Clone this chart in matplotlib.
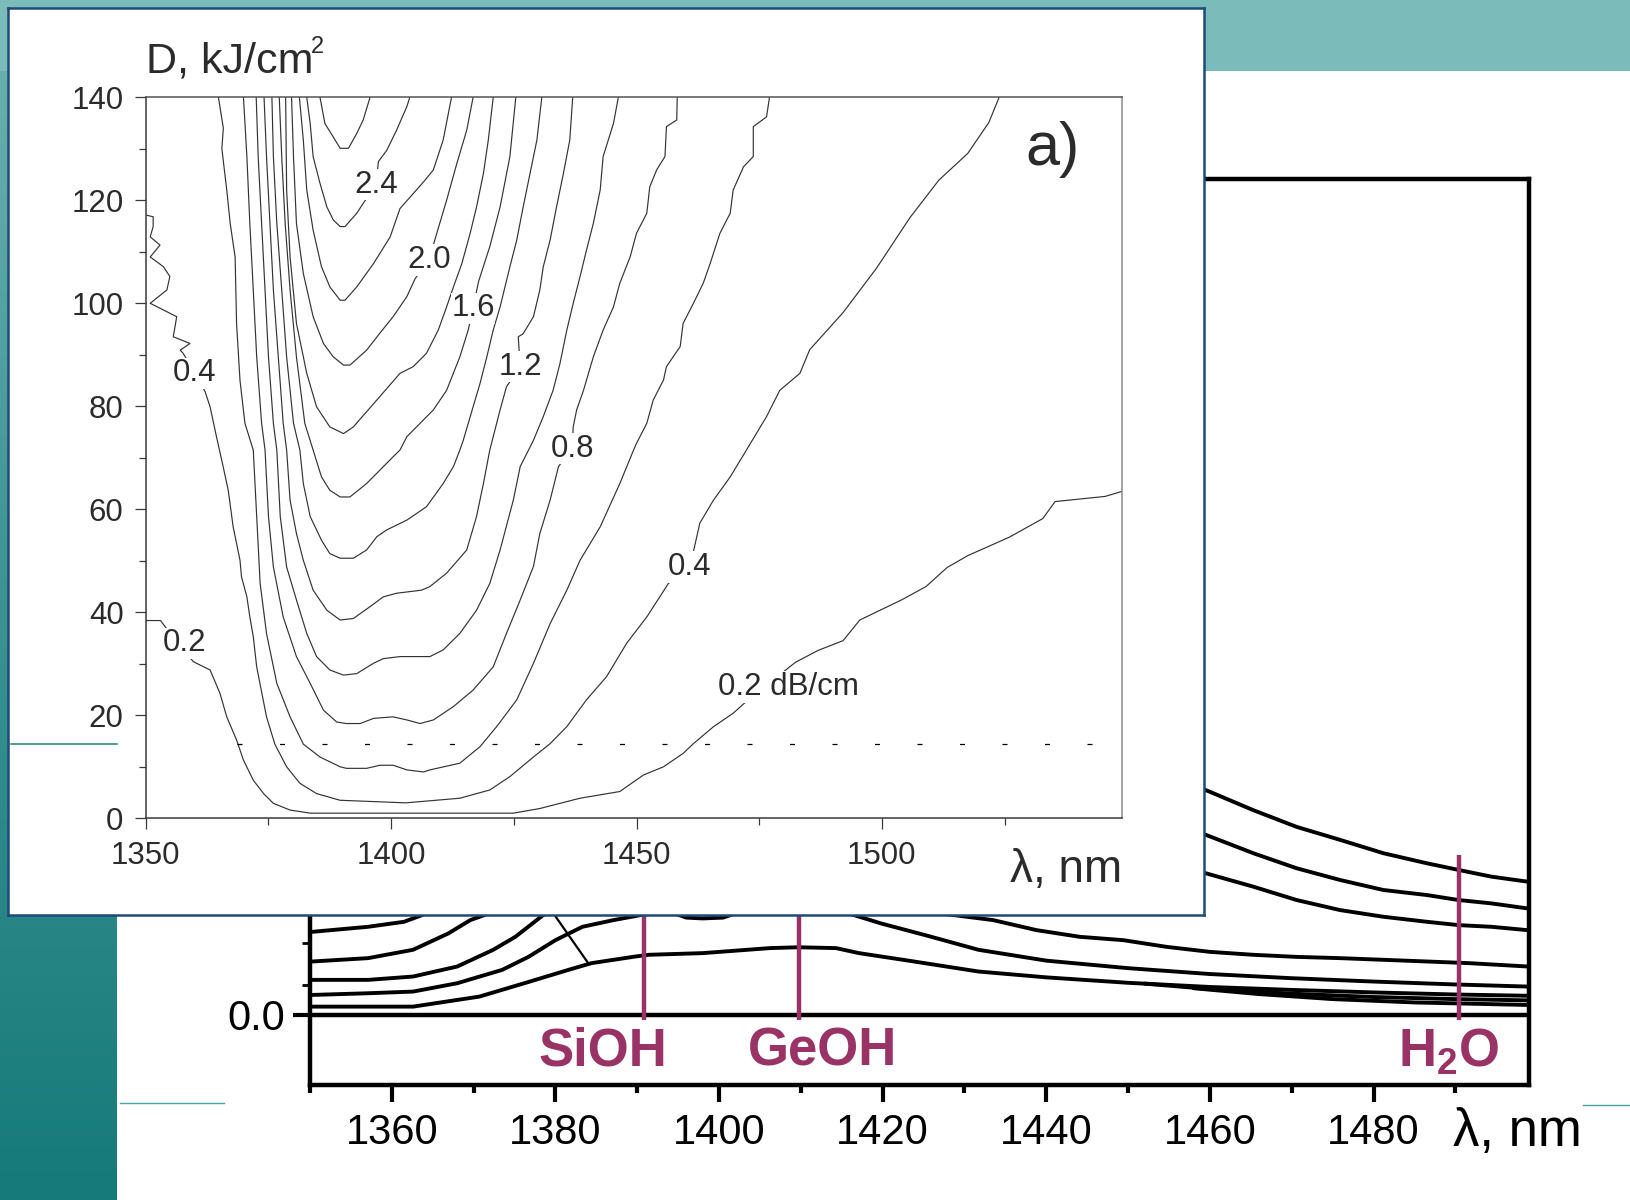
import numpy as np
import matplotlib.pyplot as plt
from matplotlib.patches import Rectangle
from matplotlib.colors import LinearSegmentedColormap
from matplotlib.ticker import FixedLocator, MultipleLocator

plt.rcParams['font.family'] = ['Liberation Sans', 'DejaVu Sans']
plt.rcParams['mathtext.fontset'] = 'custom'
plt.rcParams['mathtext.rm'] = 'Liberation Sans'
plt.rcParams['mathtext.bf'] = 'Liberation Sans:bold'

# ---------------- inset (a): iso-loss contours, lambda (nm) vs dose D (kJ/cm2)
c02_lam = [1350, 1353, 1354.5, 1356.5, 1359.7, 1363.1, 1365.1, 1366.5, 1368.5, 1369.9, 1371.9, 1374.0,
           1376.0, 1379.4, 1383.5, 1424.9, 1430.3, 1438.5, 1446.6, 1451.4, 1455.5, 1459.5, 1461.6, 1465.7,
           1469.7, 1473.8, 1478.0, 1482.4, 1487.0, 1492.1, 1495.5, 1504.0, 1509.0, 1513.3, 1517.5, 1526.0,
           1532.8, 1535.3, 1545.5, 1549.0]
c02_D = [38.4, 38.4, 36.5, 34.0, 30.4, 28.8, 24.3, 19.7, 15.2, 11.3, 7.4, 4.8,
         2.9, 1.6, 1.0, 1.0, 1.9, 3.9, 5.2, 8.4, 10.0, 12.6, 14.5, 17.8,
         20.4, 23.9, 27.0, 30.3, 32.6, 34.5, 38.5, 42.4, 45.0, 48.7, 51.0, 54.6,
         58.2, 61.5, 62.5, 63.5]
c04_lam = [1350.2, 1351.5, 1351.5, 1350.9, 1352.9, 1350.9, 1353.6, 1354.9, 1354.3, 1350.9, 1353.6, 1356.3,
           1355.6, 1359.0, 1357.0, 1357.6, 1360.0, 1362.1, 1363.1, 1364.4, 1365.6, 1366.8, 1367.8, 1369.2,
           1369.5, 1370.6, 1371.2, 1371.9, 1372.6, 1374.6, 1376.3, 1378.7, 1381.4, 1384.8, 1389.6, 1403.0,
           1414.0, 1420.1, 1424.2, 1429.0, 1432.4, 1435.8, 1439.8, 1443.9, 1448.0, 1452.1, 1456.5, 1460.9,
           1462.9, 1465.7, 1469.1, 1472.4, 1476.5, 1479.2, 1483.3, 1485.3, 1492.1, 1498.9, 1505.7, 1511.6,
           1517.5, 1521.8, 1523.9]
c04_D = [117.1, 116.8, 114.9, 112.9, 111.3, 109.0, 107.1, 105.2, 102.6, 100.0, 98.7, 97.4,
         93.5, 92.2, 90.9, 90.3, 86.5, 82.8, 79.9, 74.1, 69.0, 63.7, 56.6, 50.1,
         46.9, 43.0, 39.1, 35.3, 29.4, 19.7, 14.4, 10.0, 6.8, 4.8, 3.5, 3.0,
         3.9, 5.5, 8.1, 11.9, 14.5, 17.8, 23.0, 27.5, 34.0, 39.1, 45.6, 48.8,
         57.3, 61.8, 66.3, 71.5, 78.0, 83.1, 86.4, 91.0, 98.2, 106.8, 116.6, 123.9,
         129.1, 135.1, 140.0]
c06_lam = [1364.8, 1365.8, 1365.5, 1366.5, 1367.2, 1368.2, 1368.5, 1369.2, 1370.2, 1371.9, 1372.6, 1373.3,
           1374.6, 1376.7, 1379.4, 1382.1, 1385.5, 1389.6, 1390.9, 1395.0, 1397.7, 1400.4, 1403.2, 1406.6,
           1407.9, 1414.0, 1418.1, 1421.5, 1425.6, 1429.0, 1432.4, 1435.8, 1438.5, 1442.6, 1446.6, 1449.4,
           1450.0, 1452.1, 1453.4, 1455.5, 1456.1, 1458.9, 1459.5, 1461.6, 1463.6, 1465.0, 1467.0, 1469.1,
           1469.7, 1471.8, 1473.8, 1473.8, 1476.5, 1477.1]
c06_D = [140.0, 134.0, 130.0, 122.0, 115.5, 109.0, 96.0, 85.0, 76.7, 71.5, 58.6, 45.6,
         35.9, 26.2, 19.7, 14.4, 11.9, 10.0, 9.7, 9.7, 10.3, 10.3, 9.4, 9.0,
         9.4, 10.7, 13.9, 17.8, 23.0, 30.1, 37.8, 44.3, 50.1, 56.6, 65.0, 71.5,
         72.8, 76.7, 81.2, 85.1, 87.7, 91.6, 96.1, 100.0, 103.9, 107.7, 113.6, 117.5,
         122.0, 126.5, 128.5, 134.3, 136.2, 140.0]
c08_lam = [1369.9, 1370.6, 1371.2, 1371.9, 1372.6, 1373.6, 1374.3, 1375.0, 1376.0, 1378.0, 1380.7, 1383.5,
           1386.2, 1388.9, 1390.9, 1393.7, 1396.4, 1400.4, 1403.2, 1405.9, 1408.6, 1412.7, 1416.7, 1420.8,
           1423.5, 1426.3, 1429.0, 1430.3, 1432.4, 1434.1, 1436.9, 1437.1, 1437.8, 1439.2, 1441.2, 1443.2,
           1445.3, 1446.6, 1448.7, 1450.0, 1452.1, 1452.7, 1454.1, 1455.8, 1456.1, 1458.2, 1458.3]
c08_D = [140.0, 128.5, 115.5, 102.6, 89.6, 76.7, 71.5, 58.6, 48.8, 39.1, 31.4, 26.2,
         21.0, 18.7, 18.4, 18.4, 19.4, 19.7, 19.1, 18.4, 19.1, 21.7, 24.9, 29.4,
         35.9, 42.4, 48.9, 55.3, 61.8, 68.3, 71.8, 76.0, 79.3, 83.1, 89.6, 94.8,
         99.3, 103.9, 109.0, 113.6, 117.5, 122.6, 125.9, 128.5, 134.3, 135.6, 140.0]
c10_lam = [1372.5, 1372.9, 1373.6, 1374.3, 1375.0, 1376.0, 1376.7, 1377.4, 1378.7, 1380.7, 1382.8, 1384.8,
           1387.5, 1390.3, 1393.0, 1396.4, 1398.4, 1401.8, 1407.9, 1410.6, 1414.0, 1417.4, 1420.1, 1422.2,
           1424.9, 1426.3, 1429.0, 1431.0, 1433.0, 1434.4, 1435.8, 1437.1, 1438.5, 1439.8, 1441.2, 1442.6,
           1443.2, 1445.3, 1446.3]
c10_D = [140.0, 128.5, 115.5, 102.6, 89.6, 76.7, 71.5, 58.6, 48.8, 42.4, 35.9, 31.4,
         28.8, 27.8, 28.1, 30.1, 31.0, 31.4, 31.4, 32.7, 35.9, 40.4, 45.6, 52.1,
         61.8, 68.3, 73.4, 78.0, 83.1, 88.3, 94.8, 100.0, 105.2, 110.3, 115.5, 122.0,
         128.5, 134.9, 140.0]
c12_lam = [1374.1, 1374.6, 1375.3, 1376.0, 1377.0, 1378.0, 1378.7, 1379.4, 1380.7, 1382.1, 1384.1, 1386.9,
           1389.6, 1392.3, 1395.7, 1398.4, 1401.1, 1406.2, 1407.9, 1411.3, 1415.4, 1417.4, 1418.8, 1420.1,
           1420.8, 1422.2, 1423.5, 1426.3, 1425.9, 1426.9, 1429.0, 1430.3, 1431.0, 1432.4, 1433.7, 1435.1,
           1436.4, 1437.0]
c12_D = [140.0, 128.5, 115.5, 102.6, 89.6, 76.7, 71.5, 61.8, 55.3, 50.1, 44.3, 40.4,
         38.5, 38.8, 41.1, 43.0, 43.7, 44.3, 45.0, 47.6, 52.1, 58.6, 65.0, 71.5,
         74.1, 79.3, 83.8, 87.7, 93.5, 94.1, 97.4, 102.6, 107.1, 112.3, 118.7, 125.2,
         131.7, 140.0]
c14_lam = [1375.7, 1376.0, 1376.7, 1377.7, 1378.7, 1380.1, 1381.4, 1382.1, 1383.5, 1385.8, 1387.5, 1389.6,
           1392.3, 1395.0, 1397.1, 1399.1, 1403.2, 1405.2, 1407.2, 1410.6, 1412.7, 1414.0, 1414.7, 1416.7,
           1418.1, 1419.5, 1420.8, 1422.2, 1424.2, 1425.6, 1426.9, 1428.3, 1429.7, 1430.7]
c14_D = [140.0, 128.5, 115.5, 102.6, 89.6, 76.7, 71.5, 65.0, 58.6, 54.0, 51.4, 50.5,
         50.5, 52.1, 54.7, 56.0, 57.9, 59.2, 60.5, 65.0, 68.3, 71.5, 73.4, 79.9,
         84.4, 89.6, 94.8, 99.3, 107.1, 112.3, 118.7, 125.2, 131.7, 140.0]
c16_lam = [1377.2, 1377.7, 1378.4, 1379.4, 1380.7, 1382.4, 1384.1, 1385.8, 1387.5, 1389.6, 1391.6, 1395.0,
           1397.7, 1400.4, 1401.8, 1403.2, 1405.9, 1408.6, 1411.3, 1414.0, 1415.7, 1416.7, 1417.8, 1420.1,
           1422.2, 1424.2, 1425.4]
c16_D = [140.0, 128.5, 115.5, 102.6, 89.6, 76.7, 71.5, 66.3, 63.7, 62.4, 62.4, 65.0,
         67.6, 70.2, 71.5, 74.1, 76.7, 79.3, 83.1, 89.6, 94.8, 99.0, 104.2, 111.0,
         118.7, 128.5, 140.0]
c18_lam = [1378.5, 1378.7, 1379.4, 1380.7, 1382.8, 1384.8, 1387.5, 1390.3, 1392.3, 1397.7, 1401.8, 1404.5,
           1407.2, 1409.6, 1411.3, 1412.7, 1414.4, 1416.1, 1417.4, 1418.8, 1419.8, 1420.8]
c18_D = [140.0, 122.0, 109.0, 96.1, 86.4, 79.9, 76.0, 74.7, 76.0, 81.9, 86.4, 87.7,
         90.3, 94.8, 99.3, 103.2, 107.7, 113.6, 118.7, 125.2, 131.7, 140.0]
c20_lam = [1379.7, 1380.1, 1380.7, 1382.1, 1384.1, 1386.2, 1388.2, 1390.3, 1391.6, 1395.0, 1397.7, 1400.4,
           1403.2, 1404.9, 1407.7, 1409.3, 1411.3, 1413.4, 1415.4, 1416.7]
c20_D = [140.0, 128.5, 115.5, 105.8, 97.4, 92.2, 89.6, 88.0, 88.0, 90.9, 94.2, 97.4,
         101.3, 104.8, 108.4, 113.6, 120.0, 127.2, 133.6, 140.0]
c22_lam = [1381.3, 1382.1, 1382.8, 1384.1, 1385.8, 1387.5, 1389.6, 1390.6, 1393.0, 1396.4, 1399.8, 1401.8,
           1404.5, 1406.9, 1408.6, 1410.6, 1412.3]
c22_D = [140.0, 131.7, 122.0, 114.2, 107.1, 103.2, 100.6, 100.6, 103.2, 107.7, 112.9, 118.4,
         121.3, 123.9, 125.9, 131.7, 140.0]
c24_lam = [1382.8, 1383.5, 1384.1, 1385.5, 1386.9, 1388.2, 1389.6, 1390.6, 1393.0, 1394.3, 1396.9, 1397.4,
           1399.1, 1401.1, 1403.2, 1403.8]
c24_D = [140.0, 134.9, 128.5, 123.3, 118.7, 116.2, 114.9, 114.9, 117.5, 119.4, 123.0, 127.5,
         129.7, 133.6, 138.2, 140.0]
c26_lam = [1385.5, 1386.5, 1388.2, 1389.6, 1391.3, 1393.0, 1394.3, 1395.7]
c26_D = [140.0, 134.9, 132.3, 130.1, 130.1, 133.0, 135.6, 140.0]

contour_lams = [c02_lam, c04_lam, c06_lam, c08_lam, c10_lam, c12_lam, c14_lam,
                c16_lam, c18_lam, c20_lam, c22_lam, c24_lam, c26_lam]
contour_Ds = [c02_D, c04_D, c06_D, c08_D, c10_D, c12_D, c14_D,
              c16_D, c18_D, c20_D, c22_D, c24_D, c26_D]

label_text = ['2.4', '2.0', '1.6', '1.2', '0.8', '0.4', '0.2 dB/cm', '0.4', '0.2']
label_lam = [1396.9, 1407.7, 1416.7, 1426.3, 1436.9, 1460.9, 1481.0, 1360.0, 1357.8]
label_D = [123.0, 108.4, 99.0, 87.7, 71.8, 48.8, 25.5, 86.4, 34.0]

inset_xticks = [1350, 1400, 1450, 1500]
inset_yticks = [0, 20, 40, 60, 80, 100, 120, 140]

# ---------------- background panel: loss spectra (partly covered by the inset)
bgA_lam = [1350.3, 1357.1, 1361.5, 1363.7, 1366.0]
bgA_y = [0.199, 0.211, 0.223, 0.239, 0.26]
bgB_lam = [1350.3, 1357.1, 1362.6, 1366.9, 1369.6, 1371.3, 1373.5]
bgB_y = [0.128, 0.136, 0.156, 0.195, 0.227, 0.239, 0.26]
bgC_lam = [1350.3, 1357.1, 1362.6, 1368.0, 1372.4, 1375.1, 1378.5, 1381.0]
bgC_y = [0.084, 0.084, 0.092, 0.116, 0.156, 0.187, 0.239, 0.26]
bgD_lam = [1350.3, 1357.1, 1362.6, 1368.0, 1373.5, 1376.7, 1380.0, 1383.3, 1387.1, 1390.4, 1394.0]
bgD_y = [0.048, 0.052, 0.056, 0.076, 0.108, 0.139, 0.179, 0.211, 0.227, 0.239, 0.25]
bgE_lam = [1350.3, 1354.4, 1362.6, 1365.3, 1370.7, 1376.2, 1381.6, 1384.4, 1389.8, 1391.4, 1398.0,
           1406.2, 1409.7, 1414.3, 1417.1, 1422.5, 1431.7, 1440, 1450, 1460, 1470, 1480, 1490, 1498.8]
bgE_y = [0.020, 0.020, 0.020, 0.028, 0.044, 0.076, 0.108, 0.124, 0.140, 0.144, 0.148,
         0.160, 0.162, 0.160, 0.148, 0.132, 0.104, 0.090, 0.077, 0.067, 0.060, 0.054, 0.049, 0.046]
bgF_lam = [1414.5, 1416.5, 1419.8, 1425.2, 1431.7, 1440, 1450, 1460, 1470, 1480, 1490, 1498.8]
bgF_y = [0.250, 0.239, 0.219, 0.191, 0.156, 0.130, 0.112, 0.098, 0.088, 0.080, 0.073, 0.068]
bgG_lam = [1393.5, 1396.0, 1398.0, 1400.5, 1403.0]
bgG_y = [0.250, 0.233, 0.231, 0.233, 0.250]
bgH_lam = [1424.0, 1428.3, 1433.5, 1438.8, 1444.1, 1449.4, 1454.7, 1460.0, 1465.3, 1470.6, 1475.9,
           1481.2, 1486.5, 1491.7, 1498.8]
bgH_y = [0.250, 0.240, 0.227, 0.203, 0.187, 0.179, 0.163, 0.151, 0.144, 0.139, 0.136,
         0.132, 0.128, 0.124, 0.116]
bgI_lam = [1452, 1460, 1470, 1480, 1490, 1498.8]
bgI_y = [0.075, 0.062, 0.051, 0.043, 0.038, 0.035]
bgJ_lam = [1458, 1466, 1475, 1485, 1498.8]
bgJ_y = [0.064, 0.050, 0.038, 0.030, 0.024]
top_lam = [1458.5, 1459.5, 1465.3, 1470.6, 1475.9, 1481.2, 1486.5, 1490.4, 1494.4, 1498.8]
top1_y = [0.545, 0.538, 0.490, 0.450, 0.419, 0.387, 0.363, 0.347, 0.331, 0.319]
top2_y = [0.436, 0.431, 0.387, 0.351, 0.323, 0.299, 0.287, 0.275, 0.267, 0.255]
top3_y = [0.343, 0.339, 0.307, 0.275, 0.251, 0.235, 0.223, 0.215, 0.211, 0.203]
pointer_lam = [1379.5, 1383.9]
pointer_y = [0.25, 0.127]

band_names = [('SiOH', 1390.8, 1385.8), ('GeOH', 1409.8, 1412.6), (r'H$_\mathbf{2}$O', 1490.4, 1489.2)]
band_top = [0.30, 0.30, 0.383]
bg_xticks = [1360, 1380, 1400, 1420, 1440, 1460, 1480]
bg_xminor = [1350, 1370, 1390, 1410, 1430, 1450, 1470, 1490]
bg_yminor = [0.072, 0.172]

W, H = 1631, 1200
fig = plt.figure(figsize=(W / 100, H / 100), dpi=100)

# slide background
bg = fig.add_axes([0, 0, 1, 1], zorder=0)
teal = LinearSegmentedColormap.from_list('teal', ['#6fb2b1', '#3c9392', '#167a7a'])
bg.imshow(np.linspace(0, 1, 256)[:, None], cmap=teal, extent=[0, 117, H, 0], aspect='auto')
bg.add_patch(Rectangle((0, 0), W, 71, color='#7bbbb9', lw=0))
bg.set_xlim(0, W)
bg.set_ylim(H, 0)
bg.axis('off')

# background spectra panel
ax2 = fig.add_axes([310 / W, 1 - 1085 / H, 1219 / W, 906 / H], zorder=1)
ax2.set_xlim(1350, 1499)
ax2.set_ylim(-0.1675, 2.0)
for s in ax2.spines.values():
    s.set_linewidth(3.2)
    s.set_color('black')
kw = dict(color='black', lw=2.8, solid_capstyle='round')
for xs, ys in [(bgA_lam, bgA_y), (bgB_lam, bgB_y), (bgC_lam, bgC_y), (bgD_lam, bgD_y),
               (bgE_lam, bgE_y), (bgF_lam, bgF_y), (bgG_lam, bgG_y), (bgH_lam, bgH_y),
               (bgI_lam, bgI_y), (bgJ_lam, bgJ_y), (top_lam, top1_y), (top_lam, top2_y),
               (top_lam, top3_y)]:
    ax2.plot(xs, ys, **kw)
ax2.plot(pointer_lam, pointer_y, color='black', lw=1.6)
ax2.axhline(0, color='black', lw=3.2)
for (name, xl, xt), yt in zip(band_names, band_top):
    ax2.plot([xl, xl], [-0.012, yt], color='#993366', lw=3.2, solid_capstyle='butt')
    ax2.text(xt, -0.088, name, color='#993366', fontsize=38, fontweight='bold',
             ha='center', va='center')
ax2.xaxis.set_major_locator(FixedLocator(bg_xticks))
ax2.xaxis.set_minor_locator(FixedLocator(bg_xminor))
ax2.set_yticks([0.0])
ax2.set_yticklabels(['0.0'])
ax2.yaxis.set_minor_locator(FixedLocator(bg_yminor))
ax2.tick_params(axis='both', which='major', direction='out', length=12, width=3.0,
                labelsize=30, pad=6, colors='black')
ax2.tick_params(axis='x', which='minor', direction='out', length=6, width=3.0)
ax2.tick_params(axis='y', which='minor', direction='out', length=6, width=2.0)
ax2.tick_params(axis='x', which='major', pad=8)

# inset frame
panel = fig.add_axes([8 / W, 1 - 915 / H, 1196 / W, 907 / H], zorder=3)
panel.set_facecolor('white')
panel.set_xticks([])
panel.set_yticks([])
for s in panel.spines.values():
    s.set_color('#1d4a7a')
    s.set_linewidth(1.8)

# inset contour plot
ax = fig.add_axes([145.8 / W, 1 - 818.3 / H, 976.5 / W, 721 / H], zorder=4)
ax.set_facecolor('none')
ax.set_xlim(1350, 1549)
ax.set_ylim(0, 140)
for xs, ys in zip(contour_lams, contour_Ds):
    ax.plot(xs, ys, color='#333333', lw=0.85)
ax.hlines(14.5, 1368.5, 1549, colors='black', lw=0.9, linestyles=(0, (4, 30)))
for t, xl, yl in zip(label_text, label_lam, label_D):
    ax.text(xl, yl, t, fontsize=22.5, color='#2b2b2b', ha='center', va='center',
            bbox=dict(facecolor='white', edgecolor='none', pad=0.5))
ax.set_xticks(inset_xticks)
ax.xaxis.set_minor_locator(FixedLocator([1375, 1425, 1475, 1525]))
ax.set_yticks(inset_yticks)
ax.yaxis.set_minor_locator(MultipleLocator(10))
ax.tick_params(which='major', direction='out', length=8, width=0.9, labelsize=22.5,
               colors='#3a3a3a', labelcolor='#2b2b2b', pad=8)
ax.tick_params(which='minor', direction='out', length=5, width=0.9, colors='#3a3a3a')
ax.spines['left'].set_color('#3a3a3a')
ax.spines['bottom'].set_color('#3a3a3a')
ax.spines['top'].set_color('#555555')
ax.spines['right'].set_color('#8a8a8a')
for s in ax.spines.values():
    s.set_linewidth(1.1)

# overlay: axis titles and slide decorations (pixel coordinates)
ov = fig.add_axes([0, 0, 1, 1], zorder=10)
ov.set_xlim(0, W)
ov.set_ylim(H, 0)
ov.axis('off')
ov.plot([11, 117], [744, 744], color='#2f8c8c', lw=1.2)
ov.plot([120, 224], [1103, 1103], color='#4aa3a3', lw=1.0)
ov.plot([1583, 1631], [1105, 1105], color='#4aa3a3', lw=1.0)
ov.text(146, 62, 'D, kJ/cm', fontsize=31, color='#2b2b2b', ha='left', va='center')
ov.text(311, 47, '2', fontsize=17, color='#2b2b2b', ha='left', va='center')
ov.text(1053, 149, 'a)', fontsize=44, color='#2b2b2b', ha='center', va='center')
ov.text(1066, 870, 'λ, nm', fontsize=33, color='#2b2b2b', ha='center', va='center')
ov.text(1517, 1132, 'λ, nm', fontsize=38, color='black', ha='center', va='center')

fig.savefig('out.png', dpi=100)
